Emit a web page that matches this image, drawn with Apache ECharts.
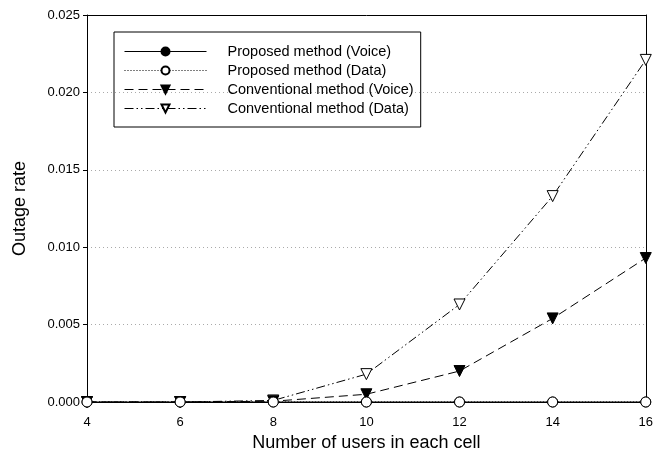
<!DOCTYPE html>
<html>
<head>
<meta charset="utf-8">
<script src="https://cdn.jsdelivr.net/npm/echarts@6/dist/echarts.min.js"></script>
<style>html,body{margin:0;padding:0;background:#fff}#c{width:656px;height:466px}</style>
</head>
<body>
<div id="c"></div>
<script>
const users = [4, 6, 8, 10, 12, 14, 16];
const proposedVoice = [0, 0, 0, 0, 0, 0, 0];
const proposedData = [0, 0, 0, 0, 0, 0, 0];
const conventionalVoice = [0, 0, 0.00005, 0.0005, 0.0020, 0.0054, 0.0093];
const conventionalData = [0, 0, 0.0001, 0.0018, 0.0063, 0.0133, 0.0221];
const seriesNames = ['Proposed method (Voice)', 'Proposed method (Data)', 'Conventional method (Voice)', 'Conventional method (Data)'];

const pair = arr => users.map((u, i) => [u, arr[i]]);
const font = 'Liberation Sans, Arial, sans-serif';

const chart = echarts.init(document.getElementById('c'));
chart.setOption({
  animation: false,
  backgroundColor: '#fff',
  grid: { left: 87, right: 7, top: 15, bottom: 64 },
  legend: {
    orient: 'vertical',
    left: 114, top: 32,
    padding: [12, 7, 11, 10],
    itemWidth: 82, itemHeight: 10, itemGap: 4,
    borderColor: '#000', borderWidth: 1,
    data: seriesNames,
    lineStyle: { width: 1 },
    textStyle: { fontFamily: font, fontSize: 14.5, lineHeight: 15, color: '#000', padding: [0, 0, 0, 16] }
  },
  xAxis: [{
    type: 'value', min: 4, max: 16, interval: 2,
    name: 'Number of users in each cell', nameLocation: 'middle', nameGap: 31,
    nameTextStyle: { fontFamily: font, fontSize: 18, color: '#000' },
    axisLine: { lineStyle: { color: '#000', width: 1 } },
    axisTick: { show: true, inside: false, length: 4, lineStyle: { color: '#000' } },
    axisLabel: { fontFamily: font, fontSize: 13, color: '#000', margin: 14 },
    splitLine: { show: false }
  }, {
    type: 'value', min: 4, max: 16, interval: 2, position: 'top',
    axisLine: { show: true, onZero: false, lineStyle: { color: '#000', width: 1 } },
    axisTick: { show: false }, axisLabel: { show: false }, splitLine: { show: false }
  }],
  yAxis: [{
    type: 'value', min: 0, max: 0.025, interval: 0.005,
    name: 'Outage rate', nameLocation: 'middle', nameGap: 58,
    nameTextStyle: { fontFamily: font, fontSize: 18, color: '#000' },
    axisLine: { show: true, lineStyle: { color: '#000', width: 1 } },
    axisTick: { show: true, inside: false, length: 4, lineStyle: { color: '#000' } },
    axisLabel: { fontFamily: font, fontSize: 13, color: '#000', margin: 7, formatter: v => v.toFixed(3) },
    splitLine: { show: true, lineStyle: { color: '#aaa', type: [1, 3], width: 1 } }
  }, {
    type: 'value', min: 0, max: 0.025, interval: 0.005, position: 'right',
    axisLine: { show: true, onZero: false, lineStyle: { color: '#000', width: 1 } },
    axisTick: { show: false }, axisLabel: { show: false }, splitLine: { show: false }
  }],
  series: [
    {
      name: seriesNames[3], type: 'line', data: pair(conventionalData), z: 3,
      symbol: 'triangle', symbolRotate: 180, symbolSize: 11,
      lineStyle: { color: '#000', width: 1, type: [9, 3, 1.5, 3, 1.5, 3] },
      itemStyle: { color: '#fff', borderColor: '#000', borderWidth: 1 }
    },
    {
      name: seriesNames[2], type: 'line', data: pair(conventionalVoice), z: 4,
      symbol: 'triangle', symbolRotate: 180, symbolSize: 11,
      lineStyle: { color: '#000', width: 1, type: [9, 5] },
      itemStyle: { color: '#000', borderColor: '#000', borderWidth: 1 }
    },
    {
      name: seriesNames[0], type: 'line', data: pair(proposedVoice), z: 5,
      symbol: 'circle', symbolSize: 10,
      lineStyle: { color: '#000', width: 1, type: 'solid' },
      itemStyle: { color: '#000', borderColor: '#000', borderWidth: 1 }
    },
    {
      name: seriesNames[1], type: 'line', data: pair(proposedData), z: 6,
      symbol: 'circle', symbolSize: 10,
      lineStyle: { color: '#000', width: 1, type: [1, 2] },
      itemStyle: { color: '#fff', borderColor: '#000', borderWidth: 1 }
    }
  ]
});
</script>
</body>
</html>
